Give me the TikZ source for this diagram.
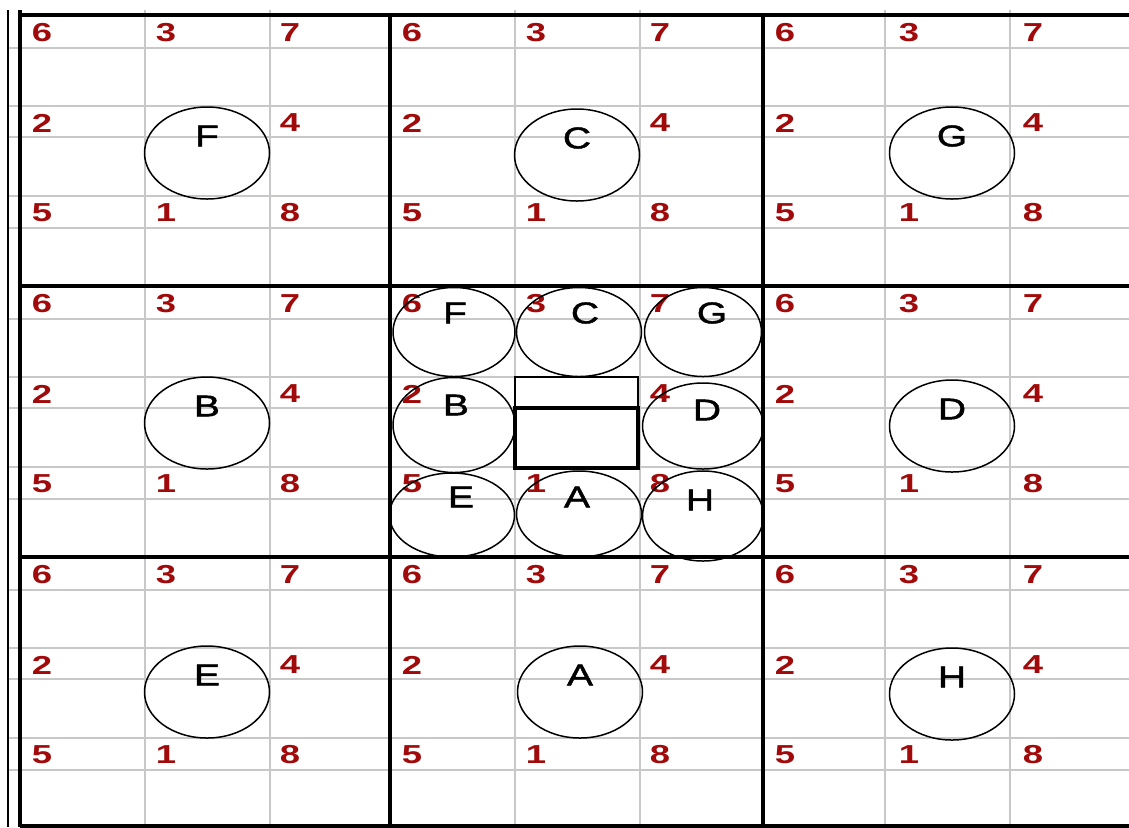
\documentclass[tikz,border=0pt]{standalone}
\usepackage{fontspec}
\setmainfont{Liberation Sans}
\newfontfamily\numfont[FakeStretch=1.4]{Liberation Sans}
\newfontfamily\lettfont[FakeStretch=1.3, FakeBold=1.5]{Liberation Sans}
\usetikzlibrary{shapes.geometric}
\definecolor{gridgray}{RGB}{200,200,200}
\definecolor{numred}{RGB}{160,10,10}
\tikzset{
  num/.style={text=numred, inner sep=0pt, font=\numfont\bfseries\fontsize{13}{13}\selectfont},
  letter/.style={inner sep=0pt, font=\lettfont\fontsize{15}{15}\selectfont},
  cell/.style={ellipse, draw, line width=0.75pt, inner sep=0pt,
    minimum width=62.5pt, minimum height=46pt},
  gridline/.style={draw=gridgray, line width=0.9pt},
  blockline/.style={line width=1.8pt}
}
\begin{document}
\begin{tikzpicture}[x=0.5pt, y=-0.5pt]
    \useasboundingbox (0,0) rectangle (1129,827);

    % 罫線
    \foreach \x in {145,270,515,640,885,1010}
        \draw[gridline] (\x,10) -- (\x,827);
    \foreach \t in {15,286,557}
        \foreach \d in {33,91,122,181,213}
            \draw[gridline] (8,\t+\d) -- (1129,\t+\d);
    \draw[line width=0.7pt] (8,10) -- (8,827);

    % 番号
    \foreach \bx in {20,390,763} {
        \foreach \by in {15,286,557} {
            \node[num] (n\bx-\by-6) at (\bx+22,\by+18) {6};
            \node[num] (n\bx-\by-3) at (\bx+146,\by+18) {3};
            \node[num] (n\bx-\by-7) at (\bx+270,\by+18) {7};
            \node[num] (n\bx-\by-2) at (\bx+22,\by+108) {2};
            \node[num] (n\bx-\by-4) at (\bx+270,\by+108) {4};
            \node[num] (n\bx-\by-5) at (\bx+22,\by+198) {5};
            \node[num] (n\bx-\by-1) at (\bx+146,\by+198) {1};
            \node[num] (n\bx-\by-8) at (\bx+270,\by+198) {8};
        }
    }

    % 外側の円
    \node[cell] (oF) at (207,153) {};
    \node[cell] (oC) at (577,155) {};
    \node[cell] (oG) at (952,153) {};
    \node[cell] (oB) at (207,423) {};
    \node[cell] (oD) at (952,426) {};
    \node[cell] (oE) at (207,692) {};
    \node[cell] (oA) at (580,692) {};
    \node[cell] (oH) at (952,694) {};
    \foreach \c in {F,C,G,B,D,E,A,H}
        \node[letter] (o\c-t) at ([yshift=8.5pt]o\c.center) {\c};

    % 中央の円
    \node[cell, minimum width=61pt, minimum height=44.5pt] (cF) at (454,332) {};
    \node[cell, minimum width=62.5pt, minimum height=44.5pt] (cC) at (579,332) {};
    \node[cell, minimum width=58.5pt, minimum height=44.5pt] (cG) at (703,332) {};
    \node[cell, minimum width=61pt, minimum height=47.5pt] (cB) at (454,425) {};
    \node[cell, minimum width=60.5pt, minimum height=43pt] (cD) at (703,426) {};
    \node[cell, minimum width=62.5pt, minimum height=42pt] (cE) at (452,515) {};
    \node[cell, minimum width=62.5pt, minimum height=43pt] (cA) at (579,514) {};
    \node[cell, minimum width=60.5pt, minimum height=45pt] (cH) at (703,516) {};

    \node[letter] (cF-t) at (455,313) {F};
    \node[letter] (cC-t) at (585,313) {C};
    \node[letter] (cG-t) at (712,313) {G};
    \node[letter] (cB-t) at (456,405) {B};
    \node[letter] (cD-t) at (707,410) {D};
    \node[letter] (cE-t) at (461,497) {E};
    \node[letter] (cA-t) at (577,497) {A};
    \node[letter] (cH-t) at (700,500) {H};

    % 中央の箱
    \draw[line width=0.7pt] (515,377) rectangle (638,408);
    \draw[line width=1.6pt] (515,408) rectangle (638,468);

    % 太線
    \draw[blockline] (20,10) -- (20,827);
    \foreach \x in {390,763}
        \draw[blockline] (\x,15) -- (\x,827);
    \foreach \y in {15,286,557,826}
        \draw[blockline] (20,\y) -- (1129,\y);
\end{tikzpicture}
\end{document}
